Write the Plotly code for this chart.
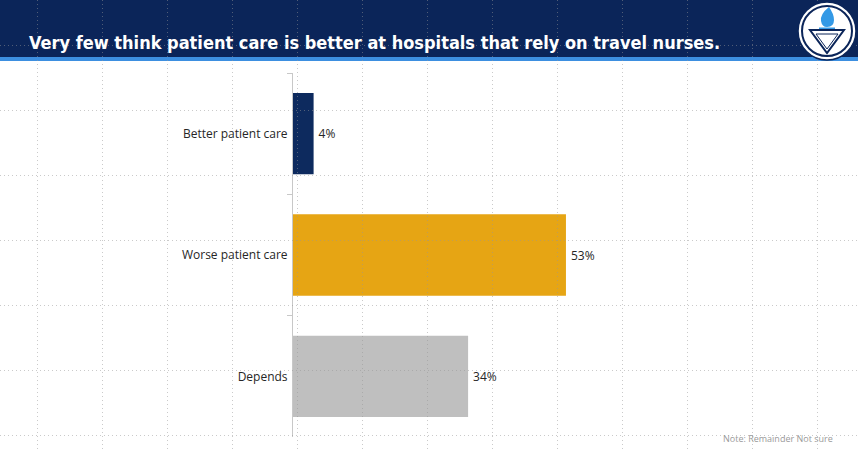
import plotly.graph_objects as go

W = 858
H = 449

title_text = 'Very few think patient care is better at hospitals that rely on travel nurses.'
note_text = 'Note: Remainder Not sure'

categories = ['Better patient care', 'Worse patient care', 'Depends']
values = [4, 53, 34]
bar_colors = ['#0d2a5e', '#e6a514', '#bfbfbf']

NAVY = '#0b2559'
GRID = 'rgba(150,150,150,0.5)'


def px_x(v):
    return v / W


def px_y(v):
    return 1 - v / H


fig = go.Figure()

# main bars
fig.add_trace(go.Bar(
    x=values,
    y=categories,
    orientation='h',
    marker=dict(color=bar_colors, line=dict(width=0)),
    text=['\u2009' + str(v) + '%' for v in values],
    textposition='outside',
    textfont=dict(size=12, color='#262626', family='Open Sans, Noto Sans, sans-serif'),
    cliponaxis=False,
    hoverinfo='skip',
))

# empty trace so the slide grid subplot exists
fig.add_trace(go.Scatter(x=[], y=[], xaxis='x2', yaxis='y2', hoverinfo='skip', showlegend=False))

fig.update_layout(
    width=W,
    height=H,
    margin=dict(l=0, r=0, t=0, b=0),
    paper_bgcolor='white',
    plot_bgcolor='rgba(0,0,0,0)',
    showlegend=False,
    bargap=0.33,
    font=dict(family='Open Sans, Noto Sans, sans-serif', color='#262626', size=12),
    xaxis=dict(
        domain=[px_x(293), px_x(602)],
        range=[0, 60],
        showgrid=False,
        zeroline=False,
        showline=False,
        showticklabels=False,
        ticks='',
        anchor='y',
    ),
    yaxis=dict(
        domain=[px_y(437), px_y(73)],
        autorange='reversed',
        showgrid=False,
        zeroline=False,
        showline=True,
        linecolor='#c8c8c8',
        linewidth=1,
        ticks='outside',
        tickson='boundaries',
        ticklen=5,
        tickcolor='#c8c8c8',
        ticklabelstandoff=2,
        tickfont=dict(size=12, color='#262626'),
        anchor='x',
    ),
    xaxis2=dict(
        domain=[0, 1],
        range=[0, W],
        tick0=37,
        dtick=65,
        showgrid=True,
        griddash='1px,3px',
        gridcolor=GRID,
        gridwidth=1,
        zeroline=False,
        showline=False,
        showticklabels=False,
        ticks='',
        anchor='y2',
        fixedrange=True,
    ),
    yaxis2=dict(
        domain=[0, 1],
        range=[H, 0],
        tick0=45,
        dtick=65,
        showgrid=True,
        griddash='1px,3px',
        gridcolor=GRID,
        gridwidth=1,
        zeroline=False,
        showline=False,
        showticklabels=False,
        ticks='',
        anchor='x2',
        fixedrange=True,
    ),
)

# header band
fig.add_shape(type='rect', xref='paper', yref='paper', layer='below',
              x0=0, x1=1, y0=px_y(57), y1=1,
              fillcolor=NAVY, line=dict(width=0))
fig.add_shape(type='rect', xref='paper', yref='paper', layer='below',
              x0=0, x1=1, y0=px_y(61), y1=px_y(57),
              fillcolor='#3d8fe0', line=dict(width=0))

# logo
fig.add_shape(type='circle', xref='paper', yref='paper', layer='above',
              x0=px_x(798), x1=px_x(856), y0=px_y(60), y1=px_y(2),
              fillcolor='white', line=dict(color=NAVY, width=1.5))
fig.add_shape(type='circle', xref='paper', yref='paper', layer='above',
              x0=px_x(802), x1=px_x(852), y0=px_y(56), y1=px_y(6),
              fillcolor='white', line=dict(color=NAVY, width=2))
fig.add_shape(type='path', xref='paper', yref='paper', layer='above',
              path='M {} {} L {} {} L {} {} Z'.format(px_x(810), px_y(30), px_x(844), px_y(30), px_x(827), px_y(53)),
              fillcolor='white', line=dict(color=NAVY, width=2))
fig.add_shape(type='path', xref='paper', yref='paper', layer='above',
              path='M {} {} L {} {} L {} {} Z'.format(px_x(816), px_y(34), px_x(838), px_y(34), px_x(827), px_y(49)),
              fillcolor='white', line=dict(color=NAVY, width=1))
# flame
fig.add_shape(type='path', xref='paper', yref='paper', layer='above',
              path='M {} {} Q {} {} {} {} Q {} {} {} {} Q {} {} {} {} Q {} {} {} {} Z'.format(
                  px_x(829), px_y(7),
                  px_x(820), px_y(14), px_x(821), px_y(21),
                  px_x(822), px_y(27), px_x(827), px_y(27),
                  px_x(834), px_y(27), px_x(834), px_y(20),
                  px_x(834), px_y(14), px_x(829), px_y(7)),
              fillcolor='#3399e6', line=dict(width=0))
fig.add_shape(type='rect', xref='paper', yref='paper', layer='above',
              x0=px_x(819), x1=px_x(835), y0=px_y(29), y1=px_y(27.5),
              fillcolor='#3399e6', line=dict(width=0))

# title
fig.add_annotation(
    text='<b>' + title_text + '</b>',
    xref='paper', yref='paper',
    x=px_x(27), y=px_y(43),
    xanchor='left', yanchor='middle',
    showarrow=False,
    font=dict(size=18, color='white', family='Liberation Sans Narrow, DejaVu Sans Condensed, sans-serif'),
)

# note at the bottom right
fig.add_annotation(
    text=note_text,
    xref='paper', yref='paper',
    x=px_x(722), y=px_y(446),
    xanchor='left', yanchor='bottom',
    showarrow=False,
    borderpad=0,
    font=dict(size=9, color='#9a9a9a'),
)

fig.write_html(
    'out.html',
    config={'displayModeBar': False},
    post_script="document.body.style.margin='0';document.body.style.overflow='hidden';",
)
